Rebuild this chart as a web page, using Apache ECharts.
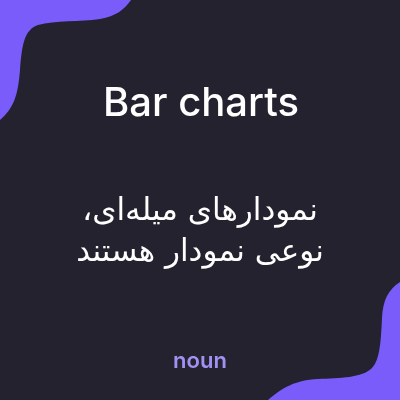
<!DOCTYPE html>
<html>
<head>
<meta charset="utf-8">
<style>
html, body { margin: 0; padding: 0; background: #25222f; }
#chart { width: 400px; height: 400px; }
</style>
<script src="https://cdn.jsdelivr.net/npm/echarts@6/dist/echarts.min.js"></script>
</head>
<body>
<div id="chart"></div>
<script>
var titleText = ['Bar charts'];
// RLM marks keep the trailing comma on the left in right-to-left order
var bodyLines = ['\u200Fنمودارهای میله‌ای،\u200F', '\u200Fنوعی نمودار هستند\u200F'];
var tagText = ['noun'];

// decorative corner blobs
echarts.graphic.registerShape('blobTopLeft', echarts.graphic.extendPath(
	'M0 0 L131 0 C124 10 116 16 100 19 C80 22 55 20 38 25 C24 30 22 45 20 70 C18 95 14 108 0 120 Z', {}
));
echarts.graphic.registerShape('blobBottomRight', echarts.graphic.extendPath(
	'M400 282 C388 290 383 300 382 318 C381 340 380 360 372 368 C362 378 340 378 318 379 C295 380 282 388 268 400 L400 400 Z', {}
));

var myChart = echarts.init(document.getElementById('chart'));

var option = {
	backgroundColor: '#25222f',
	graphic: [
	{
		type: 'blobTopLeft',
		style: { fill: '#7a5cfa' }
	},
	{
		type: 'blobBottomRight',
		style: { fill: '#7a5cfa' }
	},
	{
		type: 'text',
		x: 201,
		y: 104,
		style: {
			text: titleText[0],
			fill: '#ffffff',
			font: '500 40px Inter, Roboto, sans-serif',
			align: 'center',
			verticalAlign: 'middle'
		}
	},
	{
		type: 'text',
		x: 200,
		y: 212,
		style: {
			text: bodyLines[0],
			fill: '#ffffff',
			font: '500 31px "DejaVu Sans", sans-serif',
			align: 'center',
			verticalAlign: 'middle'
		}
	},
	{
		type: 'text',
		x: 200,
		y: 253,
		style: {
			text: bodyLines[1],
			fill: '#ffffff',
			font: '500 31px "DejaVu Sans", sans-serif',
			align: 'center',
			verticalAlign: 'middle'
		}
	},
	{
		type: 'text',
		x: 200,
		y: 361,
		style: {
			text: tagText[0],
			fill: '#a191f2',
			font: '600 22px Inter, Roboto, sans-serif',
			align: 'center',
			verticalAlign: 'middle'
		}
	}
	]
};
myChart.setOption(option);
</script>
</body>
</html>
